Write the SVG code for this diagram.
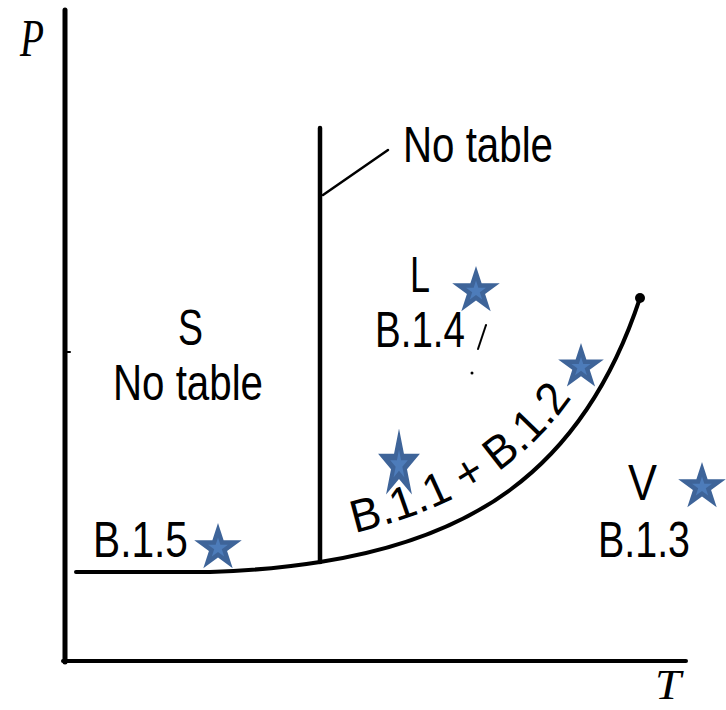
<svg xmlns="http://www.w3.org/2000/svg" width="726" height="710" viewBox="0 0 726 710">
<style>
.lbl{font-family:"Liberation Sans",Arial,sans-serif;font-size:50px;fill:#000}
.ax{font-family:"Liberation Serif","Times New Roman",serif;font-style:italic;font-size:52px;fill:#000}
.ln{fill:none;stroke:#000;stroke-linecap:round;stroke-linejoin:round}
.so{fill:#3e6499}
.si{fill:#4d7cba}
</style>
<defs>
<polygon id="star" points="0,-100 22.45,-30.9 95.11,-30.9 36.33,11.8 58.78,80.9 0,38.2 -58.78,80.9 -36.33,11.8 -95.11,-30.9 -22.45,-30.9"/>
<g id="mstar"><use href="#star" class="so"/><use href="#star" class="si" transform="scale(0.42)"/></g>
<path id="curveText" d="M 355 533 C 430 515 520 480 580 385"/>
</defs>
<rect width="726" height="710" fill="#fff"/>
<g id="axes">
<line class="ln" x1="65" y1="10" x2="65" y2="662" stroke-width="5" stroke-linecap="butt"/>
<line class="ln" x1="63" y1="661" x2="686" y2="661" stroke-width="4" stroke-linecap="butt"/>
<line class="ln" x1="66" y1="352" x2="70" y2="352" stroke-width="2"/>
<text class="ax" x="20" y="56" textLength="24" lengthAdjust="spacingAndGlyphs">P</text>
<text class="ax" x="655" y="699" style="font-size:42px" textLength="26" lengthAdjust="spacingAndGlyphs">T</text>
</g>
<g id="connectors">
<path id="fusion-line" class="ln" d="M 320 128 L 320 562" stroke-width="4.5"/>
<path id="sublimation-line" class="ln" d="M 76 572 L 210 572 Q 270 570 320 562" stroke-width="4"/>
<path id="vaporization-line" class="ln" d="M 320 562 C 460 540 580 480 640 298" stroke-width="4"/>
<circle cx="640" cy="298" r="5" fill="#000"/>
<path id="leader" class="ln" d="M 323 195 L 388 150" stroke-width="2.5"/>
<path id="mark" class="ln" d="M 486 325 L 478 349" stroke-width="2"/>
<circle cx="472" cy="373" r="1.5" fill="#000"/>
</g>
<g id="node-notable-top"><text class="lbl" x="403" y="162" textLength="150" lengthAdjust="spacingAndGlyphs">No table</text></g>
<g id="node-solid">
<text class="lbl" x="178" y="345" textLength="25" lengthAdjust="spacingAndGlyphs">S</text>
<text class="lbl" x="113" y="400" textLength="150" lengthAdjust="spacingAndGlyphs">No table</text>
</g>
<g id="node-liquid">
<text class="lbl" x="410" y="292" textLength="20" lengthAdjust="spacingAndGlyphs">L</text>
<text class="lbl" x="375" y="347" textLength="90" lengthAdjust="spacingAndGlyphs">B.1.4</text>
</g>
<g id="node-vapor">
<text class="lbl" x="628" y="500" textLength="29" lengthAdjust="spacingAndGlyphs">V</text>
<text class="lbl" x="598" y="557" textLength="92" lengthAdjust="spacingAndGlyphs">B.1.3</text>
</g>
<g id="node-b15"><text class="lbl" x="93" y="557" textLength="95" lengthAdjust="spacingAndGlyphs">B.1.5</text></g>
<g id="node-b11-b12"><text class="lbl" style="font-size:46px"><textPath href="#curveText" textLength="262" lengthAdjust="spacingAndGlyphs">B.1.1 + B.1.2</textPath></text></g>
<g id="stars">
<use href="#mstar" transform="translate(476,291) scale(0.25)"/>
<use href="#mstar" transform="translate(581,367) scale(0.24)"/>
<use href="#mstar" transform="translate(399,465) scale(0.22,0.365)"/>
<use href="#mstar" transform="translate(218,548) scale(0.25)"/>
<use href="#mstar" transform="translate(702,487) scale(0.25)"/>
</g>
</svg>
